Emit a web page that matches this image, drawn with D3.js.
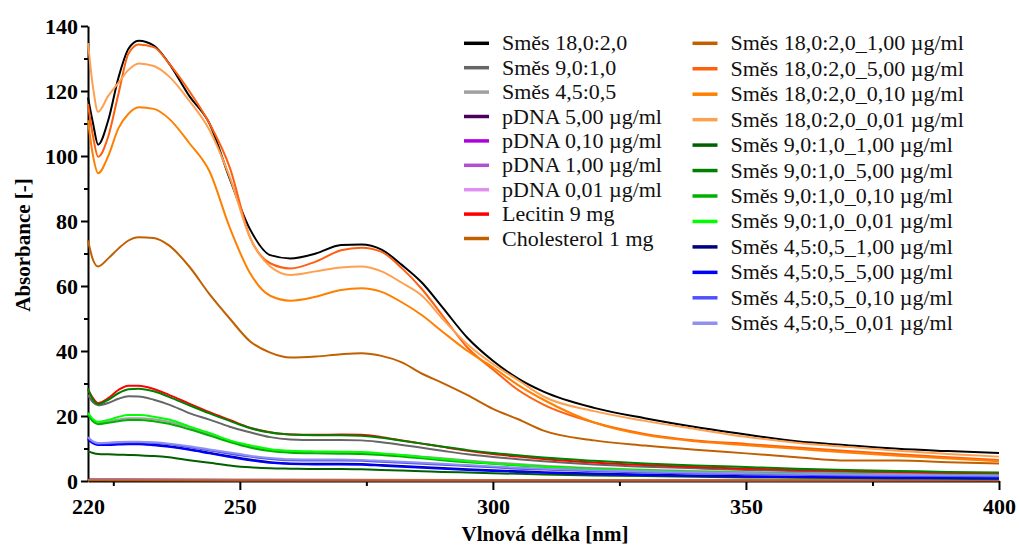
<!DOCTYPE html>
<html>
<head>
<meta charset="utf-8">
<script src="https://cdn.jsdelivr.net/npm/d3@7"></script>
<style>
  body { margin: 0; background: #fff; }
  svg { display: block; font-family: "Liberation Serif", "Times New Roman", serif; }
</style>
</head>
<body>
<div id="chart"></div>
<script>
// Wavelength grid (nm) shared by the measured spectra
const wavelengths = [220, 221, 222, 224, 226, 228, 230, 233, 236, 240, 244, 248, 252, 256, 260, 265, 270, 274, 278, 282, 286, 290, 295, 300, 305, 310, 320, 330, 340, 350, 360, 370, 380, 390, 400];
// coarse grid for the spectra that stay on the baseline
const wavelengthsFlat = [220, 250, 300, 350, 400];

// Absorbance values
const smes18 = [118, 110, 103.5, 111, 124, 133, 135.5, 134, 128.5, 118.5, 110, 93, 77.5, 69.5, 68.5, 70, 72.6, 72.8, 71.2, 66.5, 61, 53.5, 44, 37, 31.5, 27.5, 22.5, 19.3, 16.6, 14.3, 12.2, 11, 9.9, 9.2, 8.6];
const smes9 = [26.5, 24.2, 23.3, 24, 25.3, 26.1, 26, 25, 23.5, 20.9, 18.9, 16.7, 15, 13.5, 12.8, 12.6, 12.6, 12.5, 11.9, 11.1, 10.2, 9.3, 8.2, 7.4, 6.7, 6.1, 5.1, 4.4, 3.9, 3.4, 3.0, 2.7, 2.4, 2.2, 2.0];
const smes45 = [20.8, 18.8, 18, 18.3, 18.9, 19.3, 19.3, 19, 18.2, 16.5, 14.5, 12.4, 10.7, 9.6, 9.1, 8.9, 8.8, 8.7, 8.4, 8.0, 7.5, 7.0, 6.3, 5.7, 5.2, 4.7, 4.0, 3.5, 3.1, 2.8, 2.5, 2.3, 2.1, 1.9, 1.8];
const pdna500 = [0.5, 0.4, 0.3, 0.3, 0.3];
const pdna010 = [0.3, 0.2, 0.2, 0.2, 0.2];
const pdna100 = [0.4, 0.3, 0.2, 0.2, 0.2];
const pdna001 = [0.3, 0.2, 0.2, 0.2, 0.3];
const lecitin = [28, 25.5, 24, 25.5, 28, 29.3, 29.3, 28.3, 26.5, 23.8, 21.2, 18.8, 16.4, 15, 14.3, 14.2, 14.3, 14.2, 13.5, 12.5, 11.5, 10.5, 9.3, 8.3, 7.5, 6.8, 5.7, 4.9, 4.3, 3.8, 3.4, 3.1, 2.8, 2.5, 2.3];
const cholesterol = [0.2, 0.2, 0.2, 0.2, 0.2];
const s18_100 = [74, 68, 66, 68.5, 71.5, 74, 75, 74.8, 72.5, 66, 57.5, 50, 43, 39.5, 38, 38.3, 39, 39.3, 38.5, 36.5, 33, 30.2, 26.4, 22.2, 19, 15.5, 12.5, 10.9, 9.6, 8.5, 7.3, 6.3, 6.3, 5.8, 5.4];
const s18_500 = [116, 106, 99.8, 106, 119, 131.5, 134.3, 133.5, 128.5, 120, 110, 96.5, 75, 67, 65.4, 67.5, 71, 71.8, 70.5, 65.5, 59, 51, 41, 34.3, 28, 23.5, 18, 14.5, 12.5, 11.4, 10.3, 9.2, 8.2, 7.3, 6.5];
const s18_010 = [111, 100, 94.7, 100, 108.5, 113, 115, 114.5, 111.5, 104, 95.3, 78, 64, 57, 55.5, 56.7, 58.8, 59.3, 58.2, 55, 51, 46, 40, 35, 29.5, 25, 18, 14.2, 12.2, 11, 9.9, 8.8, 7.8, 6.9, 6.1];
const s18_001 = [134.7, 121, 113.6, 118.5, 122.5, 126.5, 128.5, 127.7, 124.5, 117, 108, 93.5, 75, 66, 63.4, 64.5, 65.7, 66, 64.5, 61, 57, 50, 42, 36, 31, 26, 21.5, 18.5, 16, 13.6, 11.8, 10.5, 9.3, 8.3, 7.5];
const s9_100 = [9.2, 8.6, 8.3, 8.2, 8.1, 8.0, 7.9, 7.7, 7.3, 6.4, 5.6, 4.8, 4.2, 3.9, 3.8, 3.7, 3.7, 3.6, 3.4, 3.2, 3.0, 2.8, 2.6, 2.4, 2.2, 2.0, 1.7, 1.5, 1.3, 1.1, 1.0, 0.9, 0.8, 0.7, 0.6];
const s9_500 = [28.5, 25, 23.7, 25, 27, 28.2, 28.4, 27.6, 25.9, 23.3, 20.8, 18.5, 16.3, 14.9, 14.3, 14.1, 14.1, 13.9, 13.3, 12.4, 11.5, 10.6, 9.5, 8.6, 7.9, 7.2, 6.2, 5.4, 4.8, 4.3, 3.8, 3.4, 3.1, 2.8, 2.6];
const s9_010 = [20.5, 18.3, 17.5, 17.9, 18.4, 18.8, 18.8, 18.4, 17.6, 15.9, 14.0, 12.0, 10.3, 9.2, 8.7, 8.5, 8.4, 8.3, 8.0, 7.5, 7.0, 6.4, 5.8, 5.3, 4.8, 4.4, 3.7, 3.2, 2.8, 2.5, 2.3, 2.1, 1.9, 1.8, 1.7];
const s9_001 = [21, 19, 18.2, 18.8, 19.7, 20.3, 20.3, 19.8, 18.9, 16.8, 14.8, 12.5, 11, 9.8, 9.3, 9.1, 9.0, 8.9, 8.5, 8.0, 7.4, 6.8, 6.1, 5.4, 4.9, 4.4, 3.7, 3.2, 2.8, 2.5, 2.2, 2.0, 1.8, 1.6, 1.5];
const s45_100 = [13, 11.8, 11.3, 11.3, 11.4, 11.5, 11.5, 11.2, 10.7, 9.8, 8.7, 7.6, 6.6, 5.8, 5.4, 5.3, 5.3, 5.2, 4.9, 4.6, 4.3, 4.0, 3.6, 3.3, 3.0, 2.7, 2.3, 2.0, 1.7, 1.5, 1.3, 1.2, 1.1, 1.0, 0.9];
const s45_500 = [12.8, 11.6, 11.1, 11.1, 11.2, 11.3, 11.3, 11.0, 10.5, 9.6, 8.5, 7.4, 6.4, 5.6, 5.2, 5.1, 5.1, 5.0, 4.7, 4.4, 4.1, 3.8, 3.4, 3.1, 2.8, 2.5, 2.1, 1.8, 1.5, 1.3, 1.2, 1.1, 1.0, 0.9, 0.8];
const s45_010 = [13.3, 12, 11.5, 11.6, 11.8, 11.9, 11.9, 11.7, 11.3, 10.4, 9.4, 8.4, 7.5, 6.8, 6.4, 6.3, 6.3, 6.2, 5.9, 5.6, 5.3, 5.0, 4.6, 4.2, 3.8, 3.5, 3.0, 2.6, 2.3, 2.1, 1.9, 1.7, 1.6, 1.5, 1.4];
const s45_001 = [13.5, 12.2, 11.7, 11.8, 12, 12.1, 12.1, 11.9, 11.5, 10.7, 9.7, 8.8, 7.8, 7.1, 6.7, 6.6, 6.6, 6.5, 6.2, 5.9, 5.6, 5.3, 4.9, 4.5, 4.1, 3.8, 3.3, 2.9, 2.6, 2.4, 2.2, 2.0, 1.9, 1.8, 1.7];

// Legend names and colours (legend order = draw order)
const seriesNames = [
  "Směs 18,0:2,0", "Směs 9,0:1,0", "Směs 4,5:0,5",
  "pDNA 5,00 µg/ml", "pDNA 0,10 µg/ml", "pDNA 1,00 µg/ml", "pDNA 0,01 µg/ml",
  "Lecitin 9 mg", "Cholesterol 1 mg",
  "Směs 18,0:2,0_1,00 µg/ml", "Směs 18,0:2,0_5,00 µg/ml", "Směs 18,0:2,0_0,10 µg/ml", "Směs 18,0:2,0_0,01 µg/ml",
  "Směs 9,0:1,0_1,00 µg/ml", "Směs 9,0:1,0_5,00 µg/ml", "Směs 9,0:1,0_0,10 µg/ml", "Směs 9,0:1,0_0,01 µg/ml",
  "Směs 4,5:0,5_1,00 µg/ml", "Směs 4,5:0,5_5,00 µg/ml", "Směs 4,5:0,5_0,10 µg/ml", "Směs 4,5:0,5_0,01 µg/ml"
];
const seriesColors = [
  "#000000", "#666666", "#a0a0a0",
  "#4b0060", "#b000e0", "#b050d0", "#e090f0",
  "#ff0000", "#c06000",
  "#c06000", "#ff6010", "#ff8000", "#ffa050",
  "#006000", "#008000", "#00b000", "#00ff00",
  "#000080", "#0000ff", "#5050ff", "#9090f0"
];
const seriesValues = [
  smes18, smes9, smes45,
  pdna500, pdna010, pdna100, pdna001,
  lecitin, cholesterol,
  s18_100, s18_500, s18_010, s18_001,
  s9_100, s9_500, s9_010, s9_001,
  s45_100, s45_500, s45_010, s45_001
];

const xMajorTicks = [220, 250, 300, 350, 400];
const xMinorTicks = [225, 275, 325, 375];
const yMajorTicks = [0, 20, 40, 60, 80, 100, 120, 140];
const yMinorTicks = [10, 30, 50, 70, 90, 110, 130];

const width = 1019, height = 546;

const svg = d3.select('#chart')
  .append('svg')
  .attr('width', width)
  .attr('height', height);

const x = d3.scaleLinear().domain([220, 400]).range([88, 999]);
const y = d3.scaleLinear().domain([0, 140]).range([481, 26]);

// build table for the lines
const series = seriesNames.map((name, i) => {
  const vals = seriesValues[i];
  const wl = vals.length === wavelengths.length ? wavelengths : wavelengthsFlat;
  return { name, color: seriesColors[i], points: vals.map((v, j) => [wl[j], v]) };
});

// Axes
function styleAxis(g) {
  g.select('.domain').attr('stroke', '#000').attr('stroke-width', 2);
  g.selectAll('.tick line').attr('stroke', '#000').attr('stroke-width', 2);
  g.selectAll('.tick text')
    .attr('fill', '#000')
    .style('font-size', '22px')
    .style('font-weight', 'bold')
    .style('font-family', '"Liberation Serif", "Times New Roman", serif');
}

svg.append('g')
  .attr('transform', 'translate(88,0)')
  .call(d3.axisLeft(y).tickValues(yMajorTicks).tickSize(7).tickSizeOuter(0).tickPadding(3).tickFormat(d3.format('d')))
  .call(styleAxis);

svg.append('g')
  .attr('transform', 'translate(88,0)')
  .call(d3.axisLeft(y).tickValues(yMinorTicks).tickSize(4).tickFormat(''))
  .call(styleAxis)
  .select('.domain').remove();

const xAxis = svg.append('g')
  .attr('transform', 'translate(0,481)')
  .call(d3.axisBottom(x).tickValues(xMajorTicks).tickSize(9).tickSizeOuter(0).tickPadding(8).tickFormat(d3.format('d')))
  .call(styleAxis);
xAxis.selectAll('.tick').filter(d => d === 220).select('line').remove();

svg.append('g')
  .attr('transform', 'translate(0,481)')
  .call(d3.axisBottom(x).tickValues(xMinorTicks).tickSize(5).tickFormat(''))
  .call(styleAxis)
  .select('.domain').remove();

// Lines
const line = d3.line()
  .x(d => x(d[0]))
  .y(d => y(d[1]))
  .curve(d3.curveMonotoneX);

svg.append('g')
  .selectAll('path')
  .data(series)
  .join('path')
  .attr('fill', 'none')
  .attr('stroke', d => d.color)
  .attr('stroke-width', 2)
  .attr('stroke-linejoin', 'round')
  .attr('d', d => line(d.points));

// Axis titles
svg.append('text')
  .attr('x', 545)
  .attr('y', 541)
  .attr('text-anchor', 'middle')
  .style('font-size', '21px')
  .style('font-weight', 'bold')
  .text('Vlnová délka [nm]');

svg.append('text')
  .attr('transform', 'translate(30,245) rotate(-90)')
  .attr('text-anchor', 'middle')
  .style('font-size', '21px')
  .style('font-weight', 'bold')
  .text('Absorbance [-]');

// Legend: two columns
function drawLegend(items, x0, y0, step) {
  const g = svg.append('g');
  items.forEach((d, i) => {
    const yy = y0 + i * step;
    g.append('line')
      .attr('x1', x0).attr('x2', x0 + 25)
      .attr('y1', yy).attr('y2', yy)
      .attr('stroke', d.color)
      .attr('stroke-width', 3.5);
    g.append('text')
      .attr('x', x0 + 38)
      .attr('y', yy)
      .attr('dy', '0.32em')
      .style('font-size', '22px')
      .attr('fill', '#111')
      .text(d.name);
  });
}
drawLegend(series.slice(0, 9), 464, 43.3, 24.4);
drawLegend(series.slice(9), 692.5, 43.3, 25.45);
</script>
</body>
</html>
